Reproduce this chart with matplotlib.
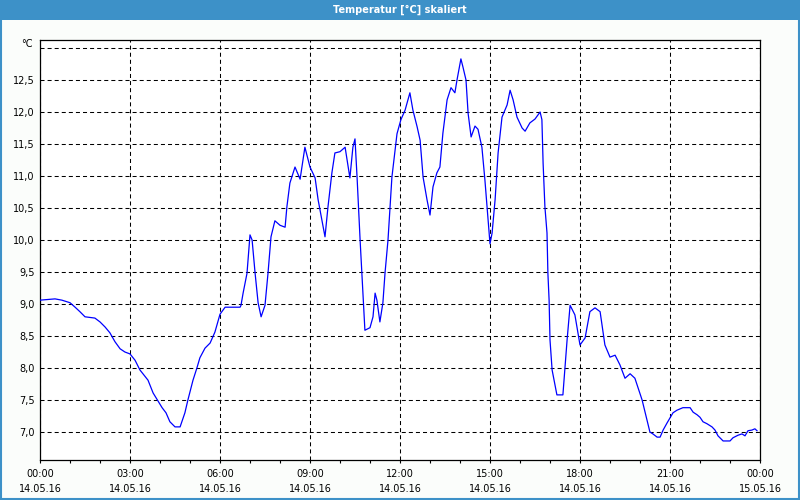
import matplotlib
matplotlib.use("Agg")
import matplotlib.pyplot as plt
from matplotlib.patches import Rectangle
from matplotlib.ticker import MultipleLocator, FixedLocator

# ---- data (hours since 14.05.16 00:00, temperature in °C) ----
hours = [0.00, 0.50, 0.73, 1.00, 1.17, 1.33, 1.50, 1.83, 2.00, 2.17, 2.33, 2.50,
         2.67, 2.83, 3.00, 3.17, 3.33, 3.60, 3.77, 4.07, 4.20, 4.33, 4.50, 4.67,
         4.83, 4.93, 5.10, 5.23, 5.33, 5.50, 5.67, 5.83, 6.00, 6.17, 6.67, 6.70,
         6.77, 6.90, 7.00, 7.07, 7.17, 7.27, 7.37, 7.50, 7.60, 7.70, 7.83, 8.00,
         8.17, 8.23, 8.33, 8.50, 8.67, 8.83, 9.00, 9.17, 9.27, 9.50, 9.60, 9.73,
         9.83, 10.00, 10.17, 10.33, 10.43, 10.50, 10.57, 10.67, 10.73, 10.83, 11.00, 11.10,
         11.17, 11.23, 11.33, 11.43, 11.50, 11.60, 11.73, 11.90, 12.03, 12.17, 12.33, 12.43,
         12.57, 12.67, 12.77, 12.90, 13.00, 13.10, 13.23, 13.33, 13.43, 13.57, 13.70, 13.83,
         13.90, 14.03, 14.10, 14.20, 14.27, 14.37, 14.50, 14.60, 14.73, 14.83, 14.90, 15.00,
         15.07, 15.17, 15.27, 15.40, 15.57, 15.67, 15.77, 15.90, 16.07, 16.17, 16.33, 16.50,
         16.67, 16.73, 16.77, 16.83, 16.90, 16.93, 16.97, 17.00, 17.07, 17.23, 17.43, 17.57,
         17.67, 17.83, 18.00, 18.17, 18.33, 18.50, 18.67, 18.83, 19.00, 19.17, 19.33, 19.50,
         19.67, 19.83, 20.07, 20.23, 20.33, 20.43, 20.57, 20.67, 20.77, 20.90, 21.00, 21.10,
         21.23, 21.43, 21.67, 21.77, 21.90, 22.00, 22.10, 22.23, 22.40, 22.50, 22.60, 22.77,
         23.00, 23.10, 23.27, 23.40, 23.50, 23.60, 23.73, 23.83, 23.90]
temps = [9.06, 9.08, 9.06, 9.02, 8.95, 8.88, 8.80, 8.78, 8.72, 8.64, 8.55, 8.41,
         8.30, 8.25, 8.22, 8.12, 7.97, 7.81, 7.61, 7.38, 7.30, 7.16, 7.08, 7.08,
         7.30, 7.50, 7.81, 8.00, 8.16, 8.31, 8.39, 8.56, 8.84, 8.95, 8.95, 8.98,
         9.17, 9.48, 10.08, 10.00, 9.48, 9.02, 8.80, 8.98, 9.48, 10.05, 10.30, 10.23,
         10.20, 10.52, 10.89, 11.14, 10.95, 11.45, 11.14, 10.97, 10.63, 10.05, 10.52, 11.05,
         11.36, 11.38, 11.45, 10.97, 11.45, 11.58, 10.97, 10.00, 9.48, 8.59, 8.63, 8.80,
         9.17, 9.06, 8.72, 9.02, 9.48, 10.00, 10.98, 11.66, 11.88, 12.03, 12.30, 12.03,
         11.77, 11.56, 10.98, 10.63, 10.39, 10.83, 11.05, 11.14, 11.67, 12.19, 12.38, 12.30,
         12.50, 12.83, 12.70, 12.50, 11.98, 11.61, 11.78, 11.73, 11.45, 10.94, 10.52, 9.94,
         10.11, 10.63, 11.36, 11.92, 12.11, 12.34, 12.19, 11.92, 11.75, 11.70, 11.83, 11.89,
         12.00, 11.88, 11.20, 10.52, 10.11, 9.48, 9.06, 8.44, 7.97, 7.58, 7.58, 8.44,
         8.98, 8.83, 8.36, 8.47, 8.88, 8.94, 8.88, 8.36, 8.17, 8.20, 8.05, 7.84,
         7.91, 7.84, 7.50, 7.19, 7.00, 6.97, 6.92, 6.92, 7.03, 7.14, 7.22, 7.30,
         7.34, 7.38, 7.38, 7.31, 7.27, 7.23, 7.16, 7.13, 7.08, 7.03, 6.94, 6.86,
         6.86, 6.91, 6.95, 6.97, 6.94, 7.02, 7.03, 7.05, 7.02]

x_tick_hours = [0, 3, 6, 9, 12, 15, 18, 21, 24]
x_tick_labels = ["00:00\n14.05.16", "03:00\n14.05.16", "06:00\n14.05.16",
                 "09:00\n14.05.16", "12:00\n14.05.16", "15:00\n14.05.16",
                 "18:00\n14.05.16", "21:00\n14.05.16", "00:00\n15.05.16"]
y_tick_values = [7.0, 7.5, 8.0, 8.5, 9.0, 9.5, 10.0, 10.5, 11.0, 11.5, 12.0, 12.5, 13.0]
y_tick_labels = ["7,0", "7,5", "8,0", "8,5", "9,0", "9,5", "10,0", "10,5",
                 "11,0", "11,5", "12,0", "12,5", ""]
title = "Temperatur [°C] skaliert"
unit = "°C"

plt.rcParams['font.family'] = ['DejaVu Sans']
plt.rcParams['lines.scale_dashes'] = False

W, H = 800, 500
fig = plt.figure(figsize=(W / 100, H / 100), dpi=100)
fig.patch.set_facecolor('#fbfdfb')

# title bar and frame
blue = '#3d91c8'
fig.add_artist(Rectangle((0, (H - 20) / H), 1, 20 / H, transform=fig.transFigure,
                         facecolor=blue, edgecolor='none', zorder=0))
fig.add_artist(Rectangle((0.75 / W, 0.75 / H), (W - 1.5) / W, (H - 1.5) / H,
                         transform=fig.transFigure, facecolor='none',
                         edgecolor=blue, linewidth=1.5, zorder=5))
fig.text(0.5, (H - 10) / H, title, color='white', fontsize=7, fontweight='bold',
         ha='center', va='center')

ax = fig.add_axes([40 / W, 40 / H, 720 / W, 420 / H])
ax.set_facecolor('white')
ax.plot(hours, temps, color='#0000ff', linewidth=0.9, zorder=3)

ax.set_xlim(0, 24)
ax.set_ylim(6.5625, 13.125)

ax.xaxis.set_major_locator(FixedLocator(x_tick_hours))
ax.set_xticklabels(x_tick_labels, fontsize=7, linespacing=1.65)
ax.xaxis.set_minor_locator(MultipleLocator(1))
ax.yaxis.set_major_locator(FixedLocator(y_tick_values))
ax.set_yticklabels(y_tick_labels, fontsize=7)

ax.tick_params(axis='x', which='major', length=2.5, width=0.8, direction='out', pad=4)
ax.tick_params(axis='x', which='minor', length=2.5, width=0.8, direction='out')
ax.tick_params(axis='y', which='major', length=0, pad=4)

ax.grid(True, which='major', color='black', linestyle=(0, (2.9, 2.2)), linewidth=0.75)
for s in ax.spines.values():
    s.set_linewidth(0.9)
    s.set_color('black')

ax.text(-0.25, 13.07, unit, transform=ax.transData, fontsize=7,
        ha='right', va='center')

fig.savefig("out.png", dpi=100, facecolor=fig.get_facecolor())
